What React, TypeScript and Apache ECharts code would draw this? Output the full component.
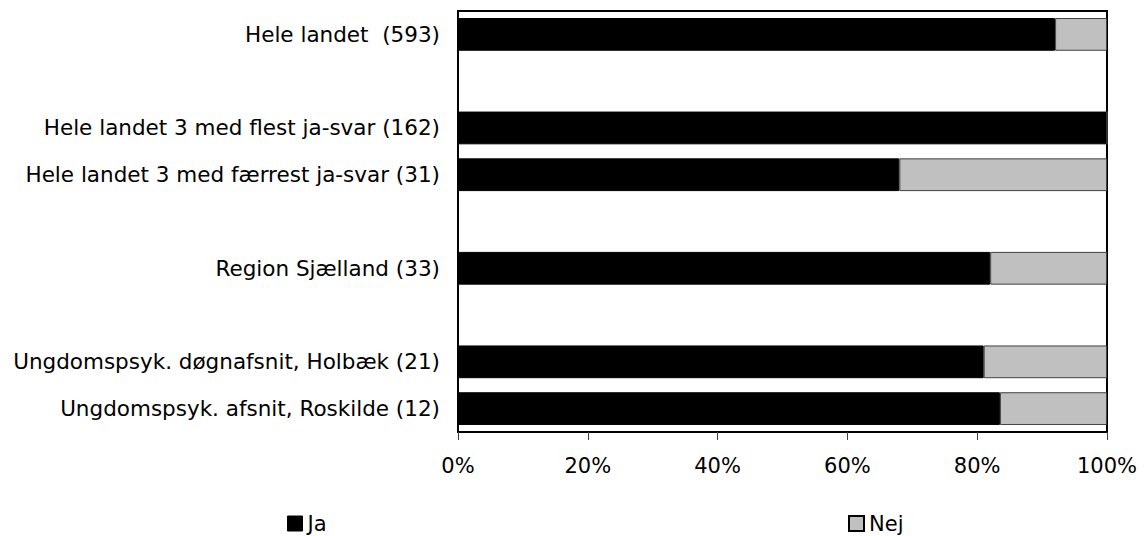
import React, { useEffect, useRef } from "react";
import * as echarts from "echarts";

const categories = [
  "Hele landet  (593)",
  "",
  "Hele landet 3 med flest ja-svar (162)",
  "Hele landet 3 med færrest ja-svar (31)",
  "",
  "Region Sjælland (33)",
  "",
  "Ungdomspsyk. døgnafsnit, Holbæk (21)",
  "Ungdomspsyk. afsnit, Roskilde (12)",
];
const jaValues = [92, null, 100, 68, null, 82, null, 81, 83.5];
const nejValues = [8, null, 0, 32, null, 18, null, 19, 16.5];
const xTicks = [0, 20, 40, 60, 80, 100];

const FONT = "DejaVu Sans";

export default function App() {
  const ref = useRef<HTMLDivElement>(null);
  useEffect(() => {
    document.body.style.margin = "0";
    const chart = echarts.init(ref.current!, null, { renderer: "svg" });
    const legendText = { fontFamily: FONT, fontSize: 21, color: "#000", lineHeight: 16 };
    chart.setOption({
      animation: false,
      backgroundColor: "#fff",
      textStyle: { fontFamily: FONT, color: "#000" },
      grid: {
        left: 458,
        right: 37,
        top: 11,
        bottom: 104,
        show: true,
        borderColor: "#000",
        borderWidth: 2,
        backgroundColor: "transparent",
      },
      legend: [
        {
          data: ["Ja"],
          left: 282,
          top: 508,
          itemWidth: 15,
          itemHeight: 15,
          itemGap: 0,
          icon: "rect",
          itemStyle: { borderColor: "#000", borderWidth: 1 },
          textStyle: legendText,
        },
        {
          data: ["Nej"],
          left: 843,
          top: 508,
          itemWidth: 15,
          itemHeight: 15,
          itemGap: 0,
          icon: "rect",
          itemStyle: { borderColor: "#000", borderWidth: 2 },
          textStyle: legendText,
        },
      ],
      xAxis: {
        type: "value",
        min: xTicks[0],
        max: xTicks[xTicks.length - 1],
        interval: 20,
        axisLine: { show: true, lineStyle: { color: "#000", width: 2 } },
        axisTick: { show: true, length: 8, lineStyle: { color: "#404040", width: 1 } },
        splitLine: { show: false },
        axisLabel: {
          formatter: "{value}%",
          fontFamily: FONT,
          fontSize: 21,
          color: "#000",
          margin: 23,
        },
      },
      yAxis: {
        type: "category",
        inverse: true,
        data: categories,
        axisLine: { show: true, lineStyle: { color: "#000", width: 2 } },
        axisTick: { show: false },
        splitLine: { show: false },
        axisLabel: {
          fontFamily: FONT,
          fontSize: 21.5,
          color: "#000",
          margin: 18,
          interval: 0,
        },
      },
      series: [
        {
          name: "Ja",
          type: "bar",
          stack: "total",
          data: jaValues,
          barCategoryGap: "30%",
          itemStyle: { color: "#000", borderColor: "#000", borderWidth: 1 },
        },
        {
          name: "Nej",
          type: "bar",
          stack: "total",
          data: nejValues,
          barCategoryGap: "30%",
          itemStyle: { color: "#C0C0C0", borderColor: "#404040", borderWidth: 1 },
        },
      ],
    });
    return () => chart.dispose();
  }, []);
  return <div ref={ref} style={{ width: 1144, height: 536 }} />;
}
